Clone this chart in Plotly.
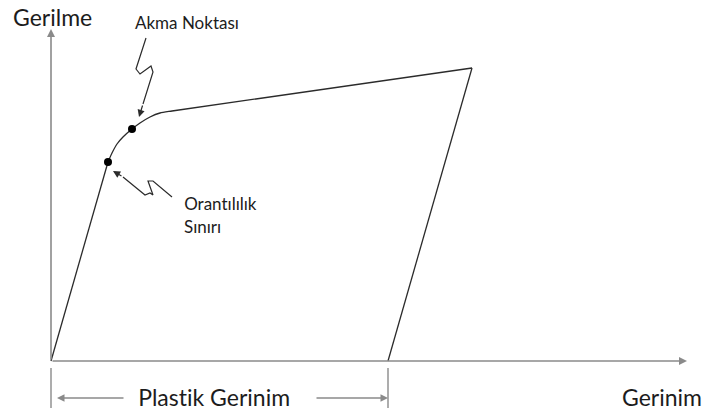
import plotly.graph_objects as go

# Data coordinates: strain (x) and stress (y), origin at the axes' corner
# elastic loading line
elastic_x = [0, 57]
elastic_y = [0, 199]
# yield transition and strain hardening up to the peak
curve_x = [57, 61, 66, 72, 81, 89, 99, 109, 121, 421]
curve_y = [199, 208, 217, 224, 232, 238, 244, 248, 250, 293]
# elastic unloading down to the strain axis
unload_x = [421, 337]
unload_y = [293, 0]
# marked points: proportional limit and yield point
point_names = ["Orantılılık Sınırı", "Akma Noktası"]
point_x = [57, 81]
point_y = [199, 232]
# zig-zag leader lines
akma_leader_x = [95, 85, 89, 100, 102, 92]
akma_leader_y = [323, 292, 287, 295, 289, 257]
oran_leader_x = [121, 102, 97, 102, 99, 94, 72]
oran_leader_y = [164, 180, 180, 166, 168, 166, 184]
plastic_strain = 337
y_axis_top = 332
x_axis_end = 636

line_col = "#2b2b2b"
axis_col = "#8a8a8a"
text_col = "#1c1c1c"
font = "Lato, 'Open Sans', sans-serif"

fig = go.Figure()
fig.add_trace(go.Scatter(x=elastic_x, y=elastic_y, mode="lines",
                         line=dict(color=line_col, width=1.3), hoverinfo="skip"))
fig.add_trace(go.Scatter(x=curve_x, y=curve_y, mode="lines", line_shape="spline",
                         line=dict(color=line_col, width=1.3, smoothing=0.6), hoverinfo="skip"))
fig.add_trace(go.Scatter(x=unload_x, y=unload_y, mode="lines",
                         line=dict(color=line_col, width=1.3), hoverinfo="skip"))
fig.add_trace(go.Scatter(x=akma_leader_x, y=akma_leader_y, mode="lines",
                         line=dict(color=line_col, width=1.2), hoverinfo="skip"))
fig.add_trace(go.Scatter(x=oran_leader_x, y=oran_leader_y, mode="lines",
                         line=dict(color=line_col, width=1.2), hoverinfo="skip"))
fig.add_trace(go.Scatter(x=point_x, y=point_y, mode="markers", text=point_names,
                         marker=dict(color="black", size=8), hoverinfo="text"))

# axes lines with arrowheads
fig.add_annotation(x=0, y=y_axis_top, ax=0, ay=0, xref="x", yref="y", axref="x", ayref="y",
                   showarrow=True, arrowhead=2, arrowsize=1, arrowwidth=1.6,
                   arrowcolor=axis_col, text="")
fig.add_annotation(x=x_axis_end, y=0, ax=0, ay=0, xref="x", yref="y", axref="x", ayref="y",
                   showarrow=True, arrowhead=2, arrowsize=1, arrowwidth=1.6,
                   arrowcolor=axis_col, text="")

# leader arrowheads
fig.add_annotation(x=88, y=244, ax=92, ay=257, xref="x", yref="y", axref="x", ayref="y",
                   showarrow=True, arrowhead=2, arrowsize=1.2, arrowwidth=1.2,
                   arrowcolor=line_col, text="")
fig.add_annotation(x=62, y=190, ax=72, ay=184, xref="x", yref="y", axref="x", ayref="y",
                   showarrow=True, arrowhead=2, arrowsize=1.2, arrowwidth=1.2,
                   arrowcolor=line_col, text="")

# plastic strain dimension
for xv in [0, plastic_strain]:
    fig.add_shape(type="line", x0=xv, x1=xv, y0=-7, y1=-47, xref="x", yref="y",
                  line=dict(color=axis_col, width=1.4))
fig.add_annotation(x=6, y=-37, ax=74, ay=-37, xref="x", yref="y", axref="x", ayref="y",
                   showarrow=True, arrowhead=2, arrowsize=1, arrowwidth=1.5,
                   arrowcolor=axis_col, text="")
fig.add_annotation(x=plastic_strain, y=-37, ax=264, ay=-37, xref="x", yref="y", axref="x", ayref="y",
                   showarrow=True, arrowhead=2, arrowsize=1, arrowwidth=1.5,
                   arrowcolor=axis_col, text="")

labels = [
    ("Gerilme", 1, 344, 23, "center"),
    ("Akma Noktası", 136, 339, 17, "center"),
    ("Orantılılık", 131, 158, 17, "left"),
    ("Sınırı", 131, 135, 17, "left"),
    ("Plastik Gerinim", 163, -36, 23, "center"),
    ("Gerinim", 611, -36, 23, "center"),
]
for txt, xv, yv, fs, anc in labels:
    fig.add_annotation(x=xv, y=yv, xref="x", yref="y", text=txt, showarrow=False,
                       xanchor=anc, yanchor="middle",
                       font=dict(family=font, size=fs, color=text_col))

fig.update_layout(
    width=704, height=414, margin=dict(l=0, r=0, t=0, b=0),
    paper_bgcolor="white", plot_bgcolor="white", showlegend=False,
    xaxis=dict(range=[-51, 653], visible=False, fixedrange=True),
    yaxis=dict(range=[-53, 361], visible=False, fixedrange=True),
)
fig.write_html(
    "out.html",
    config={"displayModeBar": False},
    post_script=(
        "document.body.style.margin='0';document.body.style.padding='0';"
        "document.querySelectorAll('text').forEach(function(t){"
        "t.style.fontVariantLigatures='none';t.style.fontFeatureSettings='\"liga\" 0';});"
    ),
)
